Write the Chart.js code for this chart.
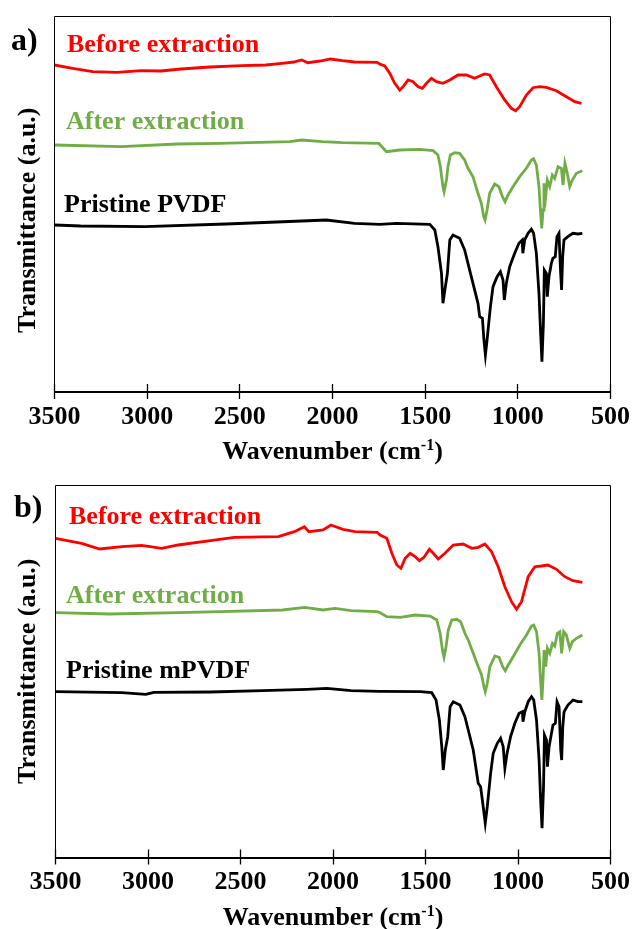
<!DOCTYPE html>
<html><head><meta charset="utf-8">
<script src="https://cdn.jsdelivr.net/npm/chart.js@4.4.0/dist/chart.umd.min.js"></script>
<style>
html,body{margin:0;padding:0;background:#fff;overflow:hidden;width:632px;height:929px}
.p{position:relative;width:632px}
#wa{height:465px}#wb{height:468px}
</style></head><body>
<div class="p" id="wa"><canvas id="ca"></canvas></div>
<div class="p" id="wb"><canvas id="cb"></canvas></div>
<script>
// ---- data (wavenumber in cm-1, transmittance in arbitrary units) ----
const xTicks = [3500,3000,2500,2000,1500,1000,500];

// Panel a
const wnRedA = [3500,3402,3294,3163,3034,2926,2818,2662,2489,2360,2273,2209,2166,2133,2054,2011,1946,1881,1760,1745,1718,1691,1664,1637,1619,1592,1565,1538,1515,1493,1466,1439,1404,1367,1323,1277,1233,1206,1179,1152,1116,1071,1035,1012,990,954,918,882,846,792,738,693,657];
const tRedA = [327,323.7,320.3,319.7,321.3,321,323,325,326.3,327,328.7,330,332,329.3,331.3,333,331.3,330,329.7,328,326,318.7,308.7,302,305.3,312,310.3,305.3,303.7,308.7,313.7,310.3,308.7,312,317,317,313.7,316,318,317,305.3,292,283.7,281.3,285.3,297,304.3,305.3,304.7,301.3,295.3,290.3,288.7];

const wnGreenA = [3500,3141,2837,2609,2230,2166,2054,1946,1750,1709,1637,1530,1457,1431,1418,1404,1398,1385,1377,1364,1341,1314,1287,1269,1242,1215,1197,1184,1177,1166,1152,1125,1102,1083,1069,1053,1026,990,954,927,915,900,886,877,871,864,859,850,841,828,814,801,783,765,756,746,733,720,706,684,652];
const tGreenA = [247,245.3,248,248.7,250.3,252,250.3,249.3,248.7,240.3,242,242.7,241.3,237,225.3,205.3,200.3,212,225.3,237,239.3,238.7,232,223.7,215.3,198.7,188.7,175.3,172,182,198.7,208,205.3,195.3,190.3,197,205.3,215.3,223.7,232,233.3,227,205.3,178.7,163.7,182,208.7,195.3,212,205.3,217,213.7,225.3,223.7,207,228.7,218.7,205.3,212,218.7,221.3];

const wnBlackA = [3500,3359,3012,2575,2166,2033,1881,1745,1655,1475,1448,1431,1412,1404,1391,1380,1367,1350,1314,1287,1269,1242,1215,1206,1191,1183,1175,1166,1148,1134,1112,1094,1080,1073,1062,1044,1017,994,976,973,963,945,927,915,900,886,877,870,862,857,846,841,832,819,811,798,789,778,769,764,758,751,730,703,676,652];
const tBlackA = [167,166,165.3,168,171,172,168.7,167.7,168.7,167.7,162,145.3,118.7,88.7,105.3,118.7,152,157,153.7,142,128.7,108.7,88.7,75.3,73.7,52,37,52,85.3,105.3,115.3,120.3,112,92,108.7,125.3,138.7,148.7,152,138.7,152,158.7,162.7,158.7,138.7,98.7,58.7,30.3,68.7,122,118.7,95.3,115.3,128.7,133.7,135.3,155.3,158.7,118.7,102,135.3,152,155.3,158.7,158,158.7];

// Panel b
const wnRedB = [3500,3359,3261,3141,3034,2926,2837,2663,2533,2295,2209,2155,2130,2054,2011,1946,1881,1761,1745,1709,1682,1655,1633,1610,1583,1556,1533,1508,1479,1458,1431,1395,1350,1296,1250,1215,1179,1143,1107,1071,1035,1008,981,945,909,873,838,792,747,703,652];
const tRedB = [319.2,314.2,308.5,310.8,312.2,309.2,312.5,316.8,320.2,320.8,325.8,330.8,325.8,327.5,332.5,328.2,325.8,325.2,322.5,319.2,304.2,292.5,289.2,299.2,304.2,300.8,296.8,300.2,308.2,304.2,298.5,304.2,312.5,313.5,309.2,310.2,313.5,305.8,290.8,270.8,255.8,248.2,255.8,280.8,290.8,291.5,292.5,288.2,280.8,276.8,275.2];

const wnGreenB = [3500,3207,2837,2609,2273,2153,2054,1989,1902,1761,1745,1709,1637,1555,1475,1439,1421,1407,1400,1389,1377,1358,1331,1310,1287,1269,1242,1215,1197,1184,1177,1166,1152,1125,1102,1083,1069,1053,1026,990,954,927,915,900,886,877,871,864,859,850,841,828,814,801,787,774,764,753,739,720,706,684,652];
const tGreenB = [244.8,243.5,244.8,245.8,247.5,250.2,247.5,249.2,246.8,245.8,244.8,240.8,240.2,242.5,241.5,237.5,224.2,205.8,200.2,210.8,227.5,237.5,238.2,235.8,224.2,217.5,204.2,190.8,182.5,170.8,165.8,174.2,190.8,201.5,200.2,190.8,186.8,192.5,200.8,212.5,222.5,231.5,232.5,225.8,204.2,174.2,157.5,180.8,207.5,190.8,209.2,204.2,214.2,211.5,224.2,225.8,204.2,225.8,222.5,209.2,215.8,219.2,222.5];

const wnBlackB = [3500,3141,3012,2969,2663,2381,2141,2033,1902,1750,1529,1466,1443,1425,1412,1404,1393,1380,1367,1350,1314,1287,1269,1242,1215,1202,1188,1177,1166,1148,1134,1112,1094,1080,1071,1059,1040,1017,994,976,973,963,945,927,915,900,886,877,870,862,857,846,841,832,819,811,798,789,778,769,764,758,751,730,703,676,652];
const tBlackB = [165.8,164.8,163.2,165.2,165.5,166.8,168.2,169.2,166.8,166.2,165.8,164.8,157.5,137.5,110.8,87.5,107.5,120.8,150.8,155.8,152.5,140.8,127.5,107.5,74.2,70.8,50.8,34.2,50.8,84.2,104.2,114.2,119.2,110.8,89.2,104.2,120.8,134.2,144.2,145.8,135.8,145.8,155.8,160.8,157.5,137.5,97.5,54.2,29.2,70.8,122.5,117.5,90.8,110.8,124.2,132.5,134.2,155.8,150.8,107.5,97.5,130.8,145.8,152.5,157.5,155.8,155.8];

const RED = '#FF0000', GREEN = '#70AD47', BLACK = '#000000';
const FAM = "'Liberation Serif','Times New Roman',serif";
const F26 = {family: FAM, size: 26, weight: 'bold'};

const decor = {
  id: 'decor',
  afterDraw(chart, args, o) {
    const {ctx, chartArea: a} = chart;
    const xs = chart.scales.x;
    ctx.save();
    ctx.strokeStyle = '#000';
    ctx.lineWidth = 1;
    const L = Math.floor(a.left) + 0.5, R = Math.floor(a.right) + 0.5, T = Math.floor(a.top) + 0.5;
    ctx.beginPath();
    ctx.moveTo(L, a.bottom); ctx.lineTo(L, T); ctx.lineTo(R, T); ctx.lineTo(R, a.bottom);
    ctx.stroke();
    ctx.lineWidth = 1.3;
    ctx.beginPath();
    xTicks.forEach(v => {
      let px = xs.getPixelForValue(v);
      px = Math.floor(px) + 0.5;
      ctx.moveTo(px, a.bottom - o.up);
      ctx.lineTo(px, a.bottom + o.down);
    });
    ctx.stroke();
    ctx.textAlign = 'left';
    ctx.textBaseline = 'alphabetic';
    o.texts.forEach(t => {
      ctx.font = 'bold ' + t.size + 'px ' + FAM;
      ctx.fillStyle = t.color;
      ctx.fillText(t.text, t.x, t.y);
    });
    // x-axis title with superscript
    const cx = (a.left + a.right) / 2, by = o.titleY;
    const big = 'bold 26px ' + FAM, small = 'bold 16px ' + FAM;
    ctx.fillStyle = '#000';
    ctx.font = big; const w1 = ctx.measureText('Wavenumber (cm').width, w3 = ctx.measureText(')').width;
    ctx.font = small; const w2 = ctx.measureText('-1').width;
    let x0 = cx - (w1 + w2 + w3) / 2;
    ctx.font = big; ctx.fillText('Wavenumber (cm', x0, by);
    ctx.font = small; ctx.fillText('-1', x0 + w1, by - 9);
    ctx.font = big; ctx.fillText(')', x0 + w1 + w2, by);
    ctx.restore();
  }
};

function build(id, series, cfg) {
  return new Chart(document.getElementById(id), {
    type: 'line',
    data: {
      datasets: series.map(s => ({
        data: s.wn.map((w, i) => ({x: w, y: s.t[i]})),
        borderColor: s.color, borderWidth: 2.8, pointRadius: 0, fill: false, tension: 0
      }))
    },
    options: {
      responsive: true, maintainAspectRatio: false, animation: false, devicePixelRatio: 1,
      layout: {padding: {top: cfg.top, right: 21.5, left: 0, bottom: 0}},
      plugins: {legend: {display: false}, tooltip: {enabled: false},
        decor: {up: 8, down: 7, texts: cfg.texts, titleY: cfg.titleY}},
      scales: {
        x: {
          type: 'linear', reverse: true, min: 500, max: 3500,
          afterBuildTicks: s => { s.ticks = xTicks.map(v => ({value: v})); },
          afterFit: s => { s.height = cfg.xh; s.paddingLeft = 0; s.paddingRight = 0; },
          grid: {display: false, drawTicks: false},
          border: {display: true, color: '#000', width: 2},
          ticks: {font: F26, color: '#000', padding: cfg.tp, maxRotation: 0, autoSkip: false, callback: v => String(v)},
          title: {display: false}
        },
        y: {
          min: 0, max: cfg.ymax,
          afterFit: s => { s.width = cfg.yw; },
          grid: {display: false, drawTicks: false},
          border: {display: false},
          ticks: {display: false},
          title: {display: true, text: cfg.ytitle, font: F26, color: '#000', padding: {top: 12.5, bottom: 0}}
        }
      }
    },
    plugins: [decor]
  });
}

build('ca', [
  {wn: wnRedA, t: tRedA, color: RED},
  {wn: wnGreenA, t: tGreenA, color: GREEN},
  {wn: wnBlackA, t: tBlackA, color: BLACK}
], {
  top: 16, xh: 73, tp: 10, ymax: 376, yw: 54.5, titleY: 459,
  ytitle: 'Transmittance (a.u.)     ',
  texts: [
    {text: 'a)', x: 11, y: 50, size: 32, color: BLACK},
    {text: 'Before extraction', x: 67, y: 52, size: 26, color: RED},
    {text: 'After extraction', x: 66, y: 129, size: 26, color: GREEN},
    {text: 'Pristine PVDF', x: 64, y: 212, size: 26, color: BLACK}
  ]
});

build('cb', [
  {wn: wnRedB, t: tRedB, color: RED},
  {wn: wnGreenB, t: tGreenB, color: GREEN},
  {wn: wnBlackB, t: tBlackB, color: BLACK}
], {
  top: 20, xh: 75.5, tp: 9.5, ymax: 372.5, yw: 55.5, titleY: 460,
  ytitle: 'Transmittance (a.u.)',
  texts: [
    {text: 'b)', x: 14, y: 52, size: 32, color: BLACK},
    {text: 'Before extraction', x: 69, y: 58.5, size: 26, color: RED},
    {text: 'After extraction', x: 66, y: 138, size: 26, color: GREEN},
    {text: 'Pristine mPVDF', x: 66, y: 213, size: 26, color: BLACK}
  ]
});
</script>
</body></html>
